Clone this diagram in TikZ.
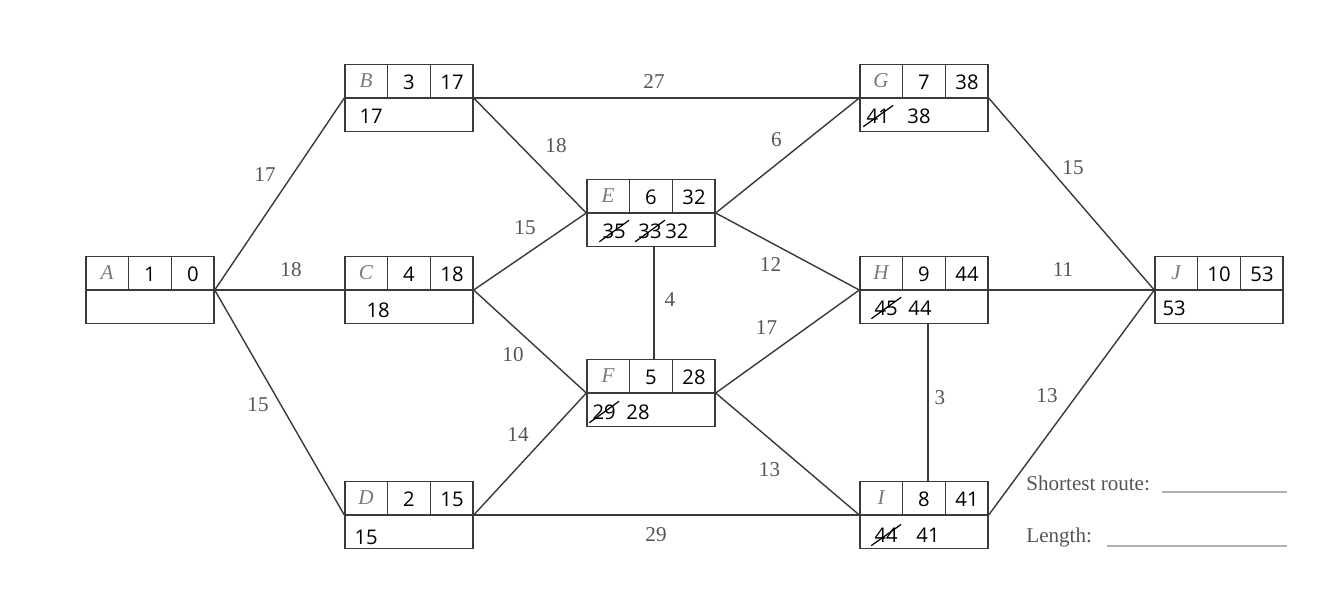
\documentclass[tikz,border=0pt]{standalone}
\usepackage{fontspec}
\setmainfont{Liberation Serif}
\newfontfamily\handfont{Open Sans}
\usetikzlibrary{positioning, calc}

\definecolor{inkgray}{HTML}{3A3A3A}
\definecolor{labelgray}{HTML}{555555}
\definecolor{lettergray}{HTML}{7A7A7A}
\definecolor{blankgray}{HTML}{B0B0B0}

\tikzset{
  labbox/.style={draw=inkgray, line width=0.8pt, minimum width=2.56cm,
    minimum height=1.34cm, inner sep=0pt},
  cell/.style={inkgray, line width=0.8pt},
  letter/.style={font=\fontsize{12}{14}\selectfont\itshape, text=lettergray},
  hand/.style={font=\handfont\fontsize{11.5}{13}\selectfont, inner sep=0pt},
  lab/.style={font=\fontsize{12}{14}\selectfont, text=labelgray, inner sep=1pt},
  note/.style={font=\fontsize{12}{14}\selectfont, text=labelgray, inner sep=0pt},
  strike/.style={line width=0.7pt},
  blank/.style={blankgray, line width=0.6pt}
}

\begin{document}
\begin{tikzpicture}[x=0.02cm, y=-0.02cm,
    every edge/.style={draw=inkgray, line width=0.8pt}]
  \fill[white] (0,0) rectangle (1334,609);

  % labelled boxes: letter, order, final label
  \foreach \n/\pos/\ord/\perm in {A/{150,290}/1/0, B/{409,98}/3/17,
      C/{409,290}/4/18, D/{409,515}/2/15, E/{651,213}/6/32,
      F/{651,393}/5/28, G/{924,98}/7/38, H/{924,290}/9/44,
      I/{924,515}/8/41, J/{1219,290}/10/53}{
    \node[labbox] (\n) at (\pos) {};
    \draw[cell] (\n.west) -- (\n.east)
      ($(\n.north west)!1/3!(\n.north east)$) -- ($(\n.west)!1/3!(\n.east)$)
      ($(\n.north west)!2/3!(\n.north east)$) -- ($(\n.west)!2/3!(\n.east)$);
    \node[letter] at ($(\n.center)+(-43,-17)$) {\n};
    \node[hand] at ($(\n.center)+(0,-16)$) {\ord};
    \node[hand] at ($(\n.center)+(43,-16)$) {\perm};
  }

  % working values
  \node[hand, anchor=west] (Bt) at ($(B.west)+(15,18)$) {17};
  \node[hand, anchor=west] (Ct) at ($(C.west)+(22,20)$) {18};
  \node[hand, anchor=west] (Dt) at ($(D.west)+(10,22)$) {15};
  \node[hand, anchor=west] (Et1) at ($(E.west)+(16,18)$) {35};
  \node[hand, right=0.24cm of Et1] (Et2) {33};
  \node[hand, right=0.06cm of Et2] (Et3) {32};
  \node[hand, anchor=west] (Ft1) at ($(F.west)+(6,19)$) {29};
  \node[hand, right=0.2cm of Ft1] (Ft2) {28};
  \node[hand, anchor=west] (Gt1) at ($(G.west)+(7,18)$) {41};
  \node[hand, right=0.34cm of Gt1] (Gt2) {38};
  \node[hand, anchor=west] (Ht1) at ($(H.west)+(15,18)$) {45};
  \node[hand, right=0.2cm of Ht1] (Ht2) {44};
  \node[hand, anchor=west] (It1) at ($(I.west)+(15,20)$) {44};
  \node[hand, right=0.36cm of It1] (It2) {41};
  \node[hand, anchor=west] (Jt) at ($(J.west)+(8,18)$) {53};
  \foreach \s in {Et1,Et2,Ft1,Gt1,Ht1,It1}
    \draw[strike] ([shift={(-3,3)}]\s.south west) -- ([shift={(3,-3)}]\s.north east);

  % arcs
  \path (A.east) edge node[lab, midway, shift={(-14.5,-19)}] {17} (B.west)
    (A.east) edge node[lab, midway, shift={(11.5,-20)}] {18} (C.west)
    (A.east) edge node[lab, midway, shift={(-21.5,2.5)}] {15} (D.west)
    (B.east) edge node[lab, midway, shift={(-12.5,-16)}] {27} (G.west)
    (B.east) edge node[lab, midway, shift={(26,-9.5)}] {18} (E.west)
    (C.east) edge node[lab, midway, shift={(-5,-23.5)}] {15} (E.west)
    (C.east) edge node[lab, midway, shift={(-17,13.5)}] {10} (F.west)
    (D.east) edge node[lab, midway, shift={(-12,-19)}] {14} (F.west)
    (D.east) edge node[lab, midway, shift={(-10.5,20)}] {29} (I.west)
    (E.east) edge node[lab, midway, shift={(-11,-15.5)}] {6} (G.west)
    (E.east) edge node[lab, midway, shift={(-17,13.5)}] {12} (H.west)
    ([xshift=0.06cm]E.south) edge node[lab, midway, shift={(16,-3)}] {4} ([xshift=0.06cm]F.north)
    (F.east) edge node[lab, midway, shift={(-21,-13.5)}] {17} (H.west)
    (F.east) edge node[lab, midway, shift={(-18,16)}] {13} (I.west)
    ([xshift=0.08cm]H.south) edge node[lab, midway, shift={(12,-4.5)}] {3} ([xshift=0.08cm]I.north)
    (G.east) edge node[lab, midway, shift={(1.5,-26)}] {15} (J.west)
    (H.east) edge node[lab, midway, shift={(-8.5,-20)}] {11} (J.west)
    (I.east) edge node[lab, midway, shift={(-24.5,-6.5)}] {13} (J.west);

  % answer lines
  \node[note, anchor=west] (route) at (1026,483) {Shortest route:};
  \node[note, anchor=west] (length) at (1026,537) {Length:};
  \coordinate (routestart) at (1162,492);
  \coordinate (routeend) at (1287,492);
  \coordinate (lengthstart) at (1107,546);
  \coordinate (lengthend) at (1287,546);
  \draw[blank] (routestart) -- (routeend);
  \draw[blank] (lengthstart) -- (lengthend);
\end{tikzpicture}
\end{document}
